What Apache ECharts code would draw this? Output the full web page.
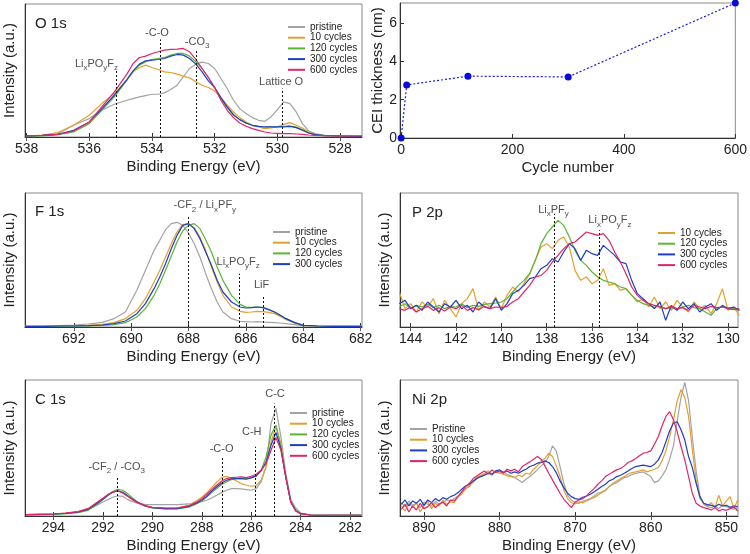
<!DOCTYPE html>
<html>
<head>
<meta charset="utf-8">
<script src="https://cdn.jsdelivr.net/npm/echarts@6/dist/echarts.min.js"></script>
<style>
  html, body { margin: 0; padding: 0; background: #fff; }
  #chart { width: 750px; height: 554px; }
</style>
</head>
<body>
<div id="chart"></div>
<script>
// ---- O 1s ----
const o1sEnergy = [538, 537.5, 537, 536.5, 536, 535.6, 535.2, 534.8, 534.6, 534.4, 534.2, 534, 533.8, 533.6, 533.4, 533.2, 533, 532.8, 532.6, 532.4, 532.2, 532, 531.8, 531.6, 531.4, 531.2, 531, 530.8, 530.6, 530.4, 530.2, 530, 529.8, 529.6, 529.4, 529.2, 529, 528.8, 528.5, 528, 527.3];
const o1sPristine = [2, 5, 10, 35, 55, 80, 98, 110, 115, 120, 124, 128, 128, 132, 142, 155, 180, 205, 218, 224, 220, 205, 175, 145, 110, 85, 70, 58, 50, 47, 60, 82, 105, 100, 75, 40, 18, 10, 5, 4, 2];
const o1s10 = [3, 6, 13, 35, 65, 100, 130, 170, 195, 208, 215, 208, 202, 195, 193, 188, 182, 177, 165, 155, 148, 138, 118, 95, 75, 58, 45, 35, 30, 25, 27, 30, 38, 43, 35, 27, 15, 8, 5, 3, 2];
const o1s120 = [2, 3, 7, 15, 40, 80, 120, 170, 198, 215, 225, 232, 235, 238, 245, 250, 250, 242, 225, 205, 178, 148, 115, 88, 65, 52, 42, 35, 32, 30, 30, 31, 32, 33, 30, 22, 12, 7, 4, 3, 2];
const o1s300 = [3, 5, 8, 20, 45, 85, 125, 172, 198, 218, 228, 230, 232, 235, 242, 247, 245, 235, 218, 195, 168, 148, 118, 90, 67, 52, 42, 35, 32, 30, 30, 30, 30, 32, 28, 20, 12, 7, 4, 3, 2];
const o1s600 = [4, 5, 8, 18, 45, 90, 135, 188, 220, 238, 242, 250, 255, 260, 262, 263, 265, 255, 232, 205, 178, 148, 110, 80, 58, 42, 32, 25, 20, 15, 12, 11, 10, 10, 9, 8, 6, 5, 4, 3, 3];
const o1sTicks = [538, 536, 534, 532, 530, 528];
const o1sPeaks = [535.15, 533.75, 532.6, 529.85];
const o1sPeakTops = [200, 292, 260, 145];
const o1sPeakNames = ['Li_xPO_yF_z', '-C-O', '-CO_3', 'Lattice O'];
const o1sNameAt = [[535.77, 220], [533.84, 310], [532.56, 285], [529.88, 165]];

// ---- CEI thickness ----
const cycles = [0, 10, 120, 300, 600];
const thickness = [0, 2.77, 3.23, 3.19, 7.05];
const cycleTicks = [0, 200, 400, 600];
const thicknessTicks = [0, 2, 4, 6];

// ---- F 1s ----
const f1sEnergy = [693.7, 693, 692.5, 692, 691.5, 691, 690.6, 690.2, 689.8, 689.5, 689.2, 689, 688.8, 688.6, 688.4, 688.2, 688, 687.8, 687.6, 687.4, 687.2, 687, 686.8, 686.5, 686.2, 686, 685.8, 685.6, 685.4, 685.2, 685, 684.8, 684.6, 684.3, 684, 683.5, 683, 682.5, 681.95];
const f1sPristine = [2, 3, 4, 6, 9, 14, 25, 45, 110, 170, 230, 260, 292, 310, 314, 305, 282, 250, 210, 160, 115, 75, 45, 25, 17, 16, 15, 16, 15, 14, 13, 12, 10, 7, 4, 3, 2, 2, 2];
const f1s10 = [2, 2, 3, 4, 5, 8, 13, 25, 50, 85, 135, 170, 210, 250, 285, 307, 310, 298, 270, 230, 180, 135, 95, 60, 47, 44, 45, 47, 46, 44, 40, 32, 22, 12, 5, 3, 2, 2, 2];
const f1s120 = [2, 2, 2, 3, 3, 5, 7, 13, 30, 55, 95, 130, 170, 212, 255, 288, 305, 310, 295, 262, 225, 180, 140, 95, 68, 60, 59, 60, 58, 52, 45, 35, 25, 13, 5, 3, 2, 2, 2];
const f1s300 = [2, 2, 3, 3, 4, 6, 10, 18, 40, 70, 115, 150, 190, 235, 275, 305, 310, 295, 265, 225, 185, 140, 105, 75, 60, 57, 58, 60, 58, 52, 45, 35, 25, 13, 5, 3, 2, 2, 2];
const f1sTicks = [692, 690, 688, 686, 684, 682];
const f1sPeaks = [688.0, 686.23, 685.4];
const f1sPeakTops = [330, 160, 95];
const f1sPeakNames = ['-CF_2 / Li_xPF_y', 'Li_xPO_yF_z', 'LiF'];
const f1sNameAt = [[687.43, 365], [686.27, 195], [685.45, 125]];

// ---- P 2p ----
const p2pEnergy = [144.5, 144.25, 144, 143.75, 143.5, 143.25, 143, 142.75, 142.5, 142.25, 142, 141.75, 141.5, 141.25, 141, 140.75, 140.5, 140.25, 140, 139.75, 139.5, 139.25, 139, 138.75, 138.5, 138.25, 138, 137.75, 137.5, 137.25, 137, 136.75, 136.5, 136.25, 136, 135.75, 135.5, 135.25, 135, 134.75, 134.5, 134.25, 134, 133.75, 133.5, 133.25, 133, 132.75, 132.5, 132.25, 132, 131.75, 131.5, 131.25, 131, 130.75, 130.5, 130.25, 130, 129.75, 129.5];
const p2p10 = [105, 55, 70, 45, 75, 60, 85, 40, 80, 55, 30, 70, 85, 115, 50, 75, 60, 90, 55, 95, 120, 105, 130, 160, 200, 240, 250, 235, 260, 270, 240, 170, 140, 150, 130, 140, 175, 125, 130, 110, 115, 95, 75, 85, 60, 90, 55, 75, 50, 80, 60, 45, 75, 55, 65, 40, 70, 115, 50, 60, 35];
const p2p120 = [60, 70, 55, 65, 60, 68, 58, 65, 55, 62, 60, 70, 58, 65, 62, 68, 70, 72, 75, 85, 105, 125, 140, 160, 200, 250, 280, 300, 320, 305, 270, 230, 200, 185, 165, 150, 140, 135, 130, 120, 115, 95, 80, 70, 65, 60, 62, 55, 58, 52, 60, 65, 58, 55, 45, 35, 55, 60, 58, 55, 50];
const p2p300 = [70, 80, 55, 65, 50, 75, 60, 45, 70, 60, 80, 55, 65, 45, 75, 60, 55, 85, 50, 70, 100, 110, 125, 145, 150, 175, 185, 205, 195, 225, 250, 235, 200, 230, 220, 215, 245, 230, 215, 195, 190, 140, 100, 85, 70, 55, 75, 20, 65, 50, 75, 55, 70, 45, 60, 70, 50, 65, 55, 60, 50];
const p2p600 = [55, 50, 60, 45, 55, 62, 50, 58, 48, 60, 55, 65, 50, 58, 52, 62, 55, 60, 58, 62, 75, 85, 105, 125, 150, 155, 170, 195, 215, 235, 250, 255, 270, 285, 280, 275, 280, 260, 225, 195, 160, 120, 95, 80, 70, 65, 60, 55, 62, 55, 58, 50, 65, 60, 55, 62, 58, 60, 55, 52, 55];
const p2pTicks = [144, 142, 140, 138, 136, 134, 132, 130];
const p2pPeaks = [137.67, 135.66];
const p2pPeakTops = [340, 290];
const p2pPeakNames = ['Li_xPF_y', 'Li_xPO_yF_z'];
const p2pNameAt = [[137.7, 352], [135.21, 320]];

// ---- C 1s ----
const c1sEnergy = [295.1, 294.5, 294, 293.5, 293, 292.6, 292.2, 292, 291.8, 291.6, 291.4, 291.2, 291, 290.8, 290.6, 290.3, 290, 289.5, 289, 288.5, 288.2, 288, 287.8, 287.6, 287.4, 287.2, 287, 286.8, 286.6, 286.4, 286.2, 286, 285.8, 285.6, 285.4, 285.2, 285, 284.8, 284.6, 284.4, 284.2, 284, 283.6, 283, 282.5, 281.55];
const c1sPristine = [4, 5, 6, 8, 12, 19, 34, 42, 49, 56, 60, 59, 49, 43, 38, 35, 34, 34, 34, 36, 39, 43, 47, 54, 62, 70, 77, 82, 82, 81, 79, 77, 82, 102, 147, 277, 322, 237, 127, 49, 24, 9, 3, 2, 2, 2];
const c1s10 = [4, 5, 6, 9, 13, 22, 42, 52, 64, 73, 76, 71, 59, 49, 40, 30, 25, 24, 24, 33, 46, 56, 69, 85, 101, 115, 119, 113, 105, 97, 92, 89, 91, 107, 147, 222, 267, 217, 117, 42, 15, 7, 3, 2, 2, 2];
const c1s120 = [3, 4, 5, 7, 10, 17, 37, 49, 62, 73, 80, 77, 67, 54, 42, 30, 24, 21, 21, 27, 37, 45, 57, 70, 82, 94, 102, 109, 112, 112, 112, 115, 119, 137, 177, 242, 272, 207, 117, 44, 17, 7, 3, 2, 2, 2];
const c1s300 = [4, 5, 6, 8, 12, 20, 40, 50, 62, 71, 75, 71, 61, 50, 41, 31, 25, 22, 22, 29, 39, 48, 59, 74, 87, 99, 107, 111, 112, 112, 110, 114, 120, 135, 162, 212, 250, 202, 115, 42, 16, 7, 3, 2, 2, 2];
const c1s600 = [4, 5, 6, 9, 13, 22, 43, 53, 64, 71, 75, 69, 59, 49, 40, 31, 26, 24, 24, 31, 42, 52, 65, 79, 92, 104, 112, 115, 116, 117, 115, 119, 125, 137, 157, 197, 235, 197, 115, 41, 15, 7, 3, 2, 2, 2];
const c1sTicks = [294, 292, 290, 288, 286, 284, 282];
const c1sPeaks = [291.41, 287.18, 285.85, 285.08];
const c1sPeakTops = [119, 175, 207, 337];
const c1sPeakNames = ['-CF_2 / -CO_3', '-C-O', 'C-H', 'C-C'];
const c1sNameAt = [[291.44, 147], [287.2, 202], [285.98, 252], [285.04, 365]];

// ---- Ni 2p ----
const ni2pEnergy = [893, 892.5, 892, 891.5, 891, 890.5, 890, 889.5, 889, 888.5, 888, 887.5, 887, 886.5, 886, 885.5, 885, 884.5, 884, 883.5, 883, 882.5, 882, 881.5, 881, 880.5, 880, 879.5, 879, 878.5, 878, 877.5, 877, 876.5, 876, 875.5, 875, 874.5, 874, 873.5, 873, 872.5, 872, 871.5, 871, 870.5, 870, 869.5, 869, 868.5, 868, 867.5, 867, 866.5, 866, 865.5, 865, 864.5, 864, 863.5, 863, 862.5, 862, 861.5, 861, 860.5, 860, 859.5, 859, 858.5, 858, 857.5, 857, 856.5, 856, 855.5, 855, 854.5, 854, 853.5, 853, 852.5, 852, 851.5, 851, 850.5, 850, 849.5, 849, 848.5];
const ni2pPristine = [40, 28, 45, 32, 38, 25, 42, 35, 30, 44, 36, 40, 48, 45, 52, 60, 72, 80, 92, 100, 112, 118, 125, 130, 122, 135, 128, 132, 125, 120, 115, 108, 100, 110, 118, 128, 138, 150, 160, 178, 210, 195, 148, 98, 62, 48, 40, 38, 44, 48, 52, 60, 68, 72, 78, 88, 95, 100, 108, 115, 118, 124, 128, 130, 132, 125, 118, 100, 105, 120, 138, 170, 210, 285, 355, 400, 345, 235, 135, 60, 35, 28, 25, 30, 22, 32, 28, 24, 20, 25];
const ni2p10 = [30, 15, 38, 25, 40, 12, 30, 45, 22, 38, 30, 48, 35, 42, 40, 58, 65, 82, 88, 105, 115, 122, 128, 135, 125, 132, 128, 125, 120, 118, 115, 122, 118, 128, 125, 140, 150, 165, 172, 188, 178, 150, 118, 78, 52, 40, 36, 42, 40, 45, 50, 55, 62, 70, 76, 88, 98, 105, 112, 118, 125, 130, 132, 135, 138, 132, 136, 140, 145, 165, 195, 238, 288, 345, 378, 355, 298, 198, 108, 52, 38, 30, 40, 25, 62, 30, 45, 58, 22, 48];
const ni2p300 = [35, 48, 30, 45, 38, 50, 32, 48, 40, 52, 45, 55, 50, 58, 62, 70, 80, 90, 95, 105, 112, 118, 122, 128, 125, 135, 138, 130, 135, 128, 132, 128, 135, 140, 148, 152, 158, 160, 165, 160, 148, 130, 105, 85, 68, 58, 52, 50, 56, 60, 65, 72, 80, 88, 95, 105, 110, 118, 122, 128, 135, 142, 148, 150, 152, 150, 148, 155, 168, 190, 222, 255, 278, 282, 258, 228, 178, 145, 98, 58, 38, 34, 32, 28, 35, 30, 32, 26, 30, 28];
const ni2p600 = [20, 35, 12, 30, 18, 38, 22, 28, 40, 25, 35, 42, 30, 48, 45, 58, 72, 88, 98, 112, 120, 128, 135, 125, 138, 130, 135, 128, 140, 135, 140, 132, 148, 155, 162, 170, 178, 170, 150, 128, 108, 88, 68, 50, 38, 25, 42, 48, 52, 60, 72, 82, 95, 105, 118, 125, 132, 138, 142, 150, 160, 165, 172, 180, 188, 190, 195, 215, 238, 270, 298, 312, 288, 252, 208, 168, 118, 68, 38, 30, 25, 22, 18, 25, 15, 20, 17, 22, 28, 15];
const ni2pTicks = [890, 880, 870, 860, 850];

const FONT = '"Liberation Sans", Arial, Helvetica, sans-serif';
const INK = '#222';
const colors = {
  'pristine': '#a3a3a3',
  'Pristine': '#a3a3a3',
  '10 cycles': '#e4a02e',
  '120 cycles': '#5bb536',
  '300 cycles': '#1f3ec6',
  '600 cycles': '#e2246c'
};

const grids = [
  { left: 25, top: 4, width: 337, height: 133 },    // O 1s
  { left: 400, top: 3, width: 338, height: 135 },   // CEI
  { left: 25, top: 193, width: 337, height: 134 },  // F 1s
  { left: 400, top: 193, width: 338, height: 134 }, // P 2p
  { left: 25, top: 380, width: 337, height: 136 },  // C 1s
  { left: 400, top: 380, width: 338, height: 136 }  // Ni 2p
];

const spectra = [
  { grid: 0, title: 'O 1s', x: o1sEnergy, range: [527.3, 538.05], yMax: 398, ticks: o1sTicks,
    curves: [['pristine', o1sPristine], ['10 cycles', o1s10], ['120 cycles', o1s120], ['300 cycles', o1s300], ['600 cycles', o1s600]],
    peaks: o1sPeaks, tops: o1sPeakTops, names: o1sPeakNames, nameAt: o1sNameAt,
    titlePos: [35, 16], legendPos: [288, 22] },
  { grid: 2, title: 'F 1s', x: f1sEnergy, range: [681.95, 693.7], yMax: 402, ticks: f1sTicks,
    curves: [['pristine', f1sPristine], ['10 cycles', f1s10], ['120 cycles', f1s120], ['300 cycles', f1s300]],
    peaks: f1sPeaks, tops: f1sPeakTops, names: f1sPeakNames, nameAt: f1sNameAt,
    titlePos: [35, 204], legendPos: [273, 227] },
  { grid: 3, title: 'P 2p', x: p2pEnergy, range: [129.56, 144.47], yMax: 402, ticks: p2pTicks,
    curves: [['10 cycles', p2p10], ['120 cycles', p2p120], ['300 cycles', p2p300], ['600 cycles', p2p600]],
    peaks: p2pPeaks, tops: p2pPeakTops, names: p2pPeakNames, nameAt: p2pNameAt,
    titlePos: [412, 205], legendPos: [658, 228] },
  { grid: 4, title: 'C 1s', x: c1sEnergy, range: [281.52, 295.15], yMax: 407, ticks: c1sTicks,
    curves: [['pristine', c1sPristine], ['10 cycles', c1s10], ['120 cycles', c1s120], ['300 cycles', c1s300], ['600 cycles', c1s600]],
    peaks: c1sPeaks, tops: c1sPeakTops, names: c1sPeakNames, nameAt: c1sNameAt,
    titlePos: [35, 392], legendPos: [290, 408] },
  { grid: 5, title: 'Ni 2p', x: ni2pEnergy, range: [848.46, 893.17], yMax: 407, ticks: ni2pTicks,
    curves: [['Pristine', ni2pPristine], ['10 cycles', ni2p10], ['300 cycles', ni2p300], ['600 cycles', ni2p600]],
    peaks: [], tops: [], names: [], nameAt: [],
    titlePos: [412, 392], legendPos: [410, 424] }
];

// 'Li_xPF_y' -> rich text with one-letter subscripts
function toRich(s) {
  let out = '', buf = '';
  for (let i = 0; i < s.length; i++) {
    if (s[i] === '_') {
      if (buf) out += '{n|' + buf + '}';
      buf = '';
      out += '{s|' + s[i + 1] + '}';
      i++;
    } else {
      buf += s[i];
    }
  }
  if (buf) out += '{n|' + buf + '}';
  return out;
}

function zip(xs, ys) {
  return xs.map((x, i) => [x, ys[i]]);
}

const axisLineStyle = { color: '#333', width: 1 };
const axisNameStyle = { fontSize: 15, color: INK, fontFamily: FONT };

const option = {
  animation: false,
  textStyle: { fontFamily: FONT },
  grid: grids.map(g => Object.assign({ show: true, borderColor: '#8a8a8a', borderWidth: 1 }, g)),
  title: [],
  legend: [],
  xAxis: [],
  yAxis: [],
  series: []
};

spectra.forEach(p => {
  const xi = option.xAxis.length;
  const yi = option.yAxis.length;
  option.xAxis.push({
    gridIndex: p.grid, type: 'value', inverse: true, min: p.range[0], max: p.range[1],
    axisLine: { onZero: false, lineStyle: axisLineStyle },
    axisTick: { inside: true, length: 4, customValues: p.ticks, lineStyle: axisLineStyle },
    axisLabel: { customValues: p.ticks, fontSize: 14, color: INK, margin: 5 },
    splitLine: { show: false },
    name: 'Binding Energy (eV)', nameLocation: 'middle', nameGap: 22, nameTextStyle: axisNameStyle
  });
  option.xAxis.push({
    gridIndex: p.grid, type: 'value', position: 'top', inverse: true, min: p.range[0], max: p.range[1],
    axisLine: { show: false },
    axisTick: { inside: true, length: 4, customValues: p.ticks, lineStyle: { color: '#555' } },
    axisLabel: { show: false },
    splitLine: { show: false }
  });
  option.yAxis.push({
    gridIndex: p.grid, type: 'value', min: 0, max: p.yMax,
    axisLine: { show: true, onZero: false, lineStyle: axisLineStyle },
    axisTick: { show: false }, axisLabel: { show: false }, splitLine: { show: false },
    name: 'Intensity (a.u.)', nameLocation: 'middle', nameGap: 8, nameTextStyle: axisNameStyle
  });

  p.curves.forEach(([name, ys]) => {
    option.series.push({
      type: 'line', name: name, xAxisIndex: xi, yAxisIndex: yi,
      data: zip(p.x, ys), symbol: 'none', showSymbol: false,
      lineStyle: { width: 1.2, color: colors[name] },
      itemStyle: { color: colors[name] }
    });
  });

  if (p.peaks.length) {
    option.series.push({
      type: 'scatter', xAxisIndex: xi, yAxisIndex: yi, symbolSize: 0, silent: true, z: 5,
      data: p.nameAt.map((v, i) => ({ value: v, label: { formatter: toRich(p.names[i]) } })),
      label: {
        show: true, position: 'inside',
        rich: {
          n: { fontSize: 11, color: INK, fontFamily: FONT },
          s: { fontSize: 8, color: INK, fontFamily: FONT, padding: [8, 0, 0, 0] }
        }
      },
      markLine: {
        silent: true, symbol: 'none', label: { show: false },
        lineStyle: { color: '#111', width: 1, type: [2, 2] },
        data: p.peaks.map((x, i) => [{ coord: [x, 0] }, { coord: [x, p.tops[i]] }])
      }
    });
  }

  option.title.push({
    text: p.title, left: p.titlePos[0], top: p.titlePos[1], padding: 0,
    textStyle: { fontSize: 15, fontWeight: 'normal', color: INK, fontFamily: FONT }
  });
  option.legend.push({
    left: p.legendPos[0], top: p.legendPos[1], orient: 'vertical', padding: 0,
    icon: 'rect', itemWidth: 17, itemHeight: 2, itemGap: 0.7, selectedMode: false,
    textStyle: { fontSize: 10, color: INK, lineHeight: 10, fontFamily: FONT },
    data: p.curves.map(c => c[0])
  });
});

// CEI thickness vs cycle number
const cx = option.xAxis.length;
const cy = option.yAxis.length;
option.xAxis.push({
  gridIndex: 1, type: 'value', min: -2, max: 600,
  axisLine: { onZero: false, lineStyle: axisLineStyle },
  axisTick: { inside: true, length: 4, customValues: cycleTicks, lineStyle: axisLineStyle },
  axisLabel: { customValues: cycleTicks, fontSize: 14, color: INK, margin: 5 },
  splitLine: { show: false },
  name: 'Cycle number', nameLocation: 'middle', nameGap: 22, nameTextStyle: axisNameStyle
});
option.yAxis.push({
  gridIndex: 1, type: 'value', min: 0, max: 7.05,
  axisLine: { show: true, onZero: false, lineStyle: axisLineStyle },
  axisTick: { inside: true, length: 4, customValues: thicknessTicks, lineStyle: axisLineStyle },
  axisLabel: { customValues: thicknessTicks, fontSize: 14, color: INK, margin: 3 },
  splitLine: { show: false },
  name: 'CEI thickness (nm)', nameLocation: 'middle', nameGap: 13, nameTextStyle: axisNameStyle
});
option.series.push({
  type: 'line', name: 'CEI', xAxisIndex: cx, yAxisIndex: cy,
  data: zip(cycles, thickness), symbol: 'circle', symbolSize: 7,
  lineStyle: { color: '#1a1ae0', width: 1.2, type: [2, 2] },
  itemStyle: { color: '#0a0ad8' }, clip: false
});

const chart = echarts.init(document.getElementById('chart'), null, { renderer: 'canvas' });
chart.setOption(option);
</script>
</body>
</html>
